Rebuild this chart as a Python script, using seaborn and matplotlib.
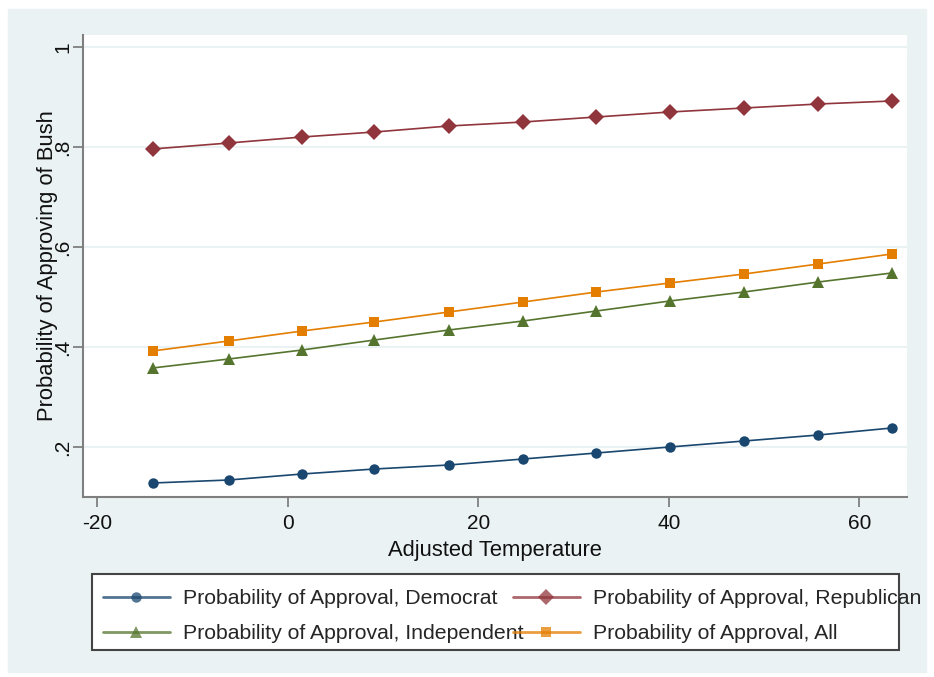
import pandas as pd
import matplotlib.pyplot as plt
import matplotlib.patches as mpatches
import seaborn as sns

temperature = [-14.2, -6.2, 1.5, 9.1, 16.9, 24.7, 32.4, 40.1, 47.9, 55.7, 63.4]
democrat = [0.128, 0.134, 0.146, 0.156, 0.164, 0.176, 0.188, 0.200, 0.212, 0.224, 0.238]
republican = [0.796, 0.808, 0.820, 0.830, 0.842, 0.850, 0.860, 0.870, 0.878, 0.886, 0.892]
independent = [0.358, 0.376, 0.394, 0.414, 0.434, 0.452, 0.472, 0.492, 0.510, 0.530, 0.548]
everyone = [0.392, 0.412, 0.432, 0.450, 0.470, 0.490, 0.510, 0.528, 0.546, 0.566, 0.586]
x_ticks = [-20, 0, 20, 40, 60]
y_ticks = [0.2, 0.4, 0.6, 0.8, 1.0]
y_tick_labels = [".2", ".4", ".6", ".8", "1"]

groups = ["Democrat", "Republican", "Independent", "All"]
series = [democrat, republican, independent, everyone]
df = pd.concat([pd.DataFrame({"temp": temperature, "prob": s,
                              "group": "Probability of Approval, " + g})
                for g, s in zip(groups, series)])
names = ["Probability of Approval, " + g for g in groups]
colors = ["#1A476F", "#90353B", "#55752F", "#E37E00"]
marks = ["o", "D", "^", "s"]
msize = [7.5, 8.5, 8.5, 7.5]

sns.set_style("white")
plt.rcParams["font.family"] = ["Liberation Sans", "DejaVu Sans"]
plt.rcParams["axes.unicode_minus"] = False

fig = plt.figure(figsize=(9.34, 6.77), dpi=100, facecolor="white")
fig.patches.append(mpatches.Rectangle((8 / 934, 5 / 677), 918 / 934, 663 / 677,
                                      transform=fig.transFigure, color="#EAF2F3", zorder=-10))
ax = fig.add_axes([83 / 934, 180 / 677, 824 / 934, 462 / 677])
ax.set_facecolor("white")

sns.lineplot(data=df, x="temp", y="prob", hue="group", style="group",
             hue_order=names, style_order=names,
             palette=dict(zip(names, colors)), markers=dict(zip(names, marks)),
             dashes=False, linewidth=1.2, markeredgewidth=0,
             ax=ax, legend=False)
for line, s in zip(ax.lines, msize):
    line.set_markersize(s)

ax.set_xlim(-21.5, 65.0)
ax.set_ylim(0.1, 1.024)
ax.set_xticks(x_ticks)
ax.set_yticks(y_ticks)
ax.set_yticklabels(y_tick_labels, rotation=90, va="center")
ax.grid(axis="y", color="#EAF2F3", linewidth=1.5)
ax.set_axisbelow(True)
for side in ["top", "right"]:
    ax.spines[side].set_visible(False)
for side in ["left", "bottom"]:
    ax.spines[side].set_color("#7f7f7f")
    ax.spines[side].set_linewidth(1.5)
ax.tick_params(axis="both", direction="out", length=7, width=1.3, color="#7f7f7f",
               labelsize=15, labelcolor="#111111", left=True, bottom=True)
ax.tick_params(axis="y", pad=1)
ax.tick_params(axis="x", pad=5)
ax.set_xlabel("Adjusted Temperature", fontsize=15.8, color="#111111", labelpad=5)
ax.set_ylabel("Probability of Approving of Bush", fontsize=15.8, color="#111111")
ax.yaxis.set_label_coords(-0.03, 0.5)

# legend box drawn separately so long labels may run past it like the original
fig.patches.append(mpatches.Rectangle((92 / 934, 27 / 677), 807 / 934, 76 / 677,
                                      transform=fig.transFigure, facecolor="white",
                                      edgecolor="#444444", linewidth=1.5, zorder=5))
handles = []
for c, m, s in zip(colors, marks, msize):
    handles.append(plt.Line2D([], [], color=c, marker=m, markersize=s,
                              markeredgewidth=0, linewidth=2))
order = [0, 2, 1, 3]
leg = fig.legend([handles[i] for i in order], [names[i] for i in order],
                 loc="upper left", bbox_to_anchor=(103 / 934, 1 - 589 / 677),
                 ncol=2, frameon=False, fontsize=15.3, handlelength=3.15,
                 handletextpad=0.61, columnspacing=-0.5, labelspacing=0.75,
                 borderpad=0, borderaxespad=0)
leg.set_zorder(6)
for h in leg.legend_handles:
    h.set_alpha(0.75)

fig.savefig("out.png", dpi=100, facecolor="white")
